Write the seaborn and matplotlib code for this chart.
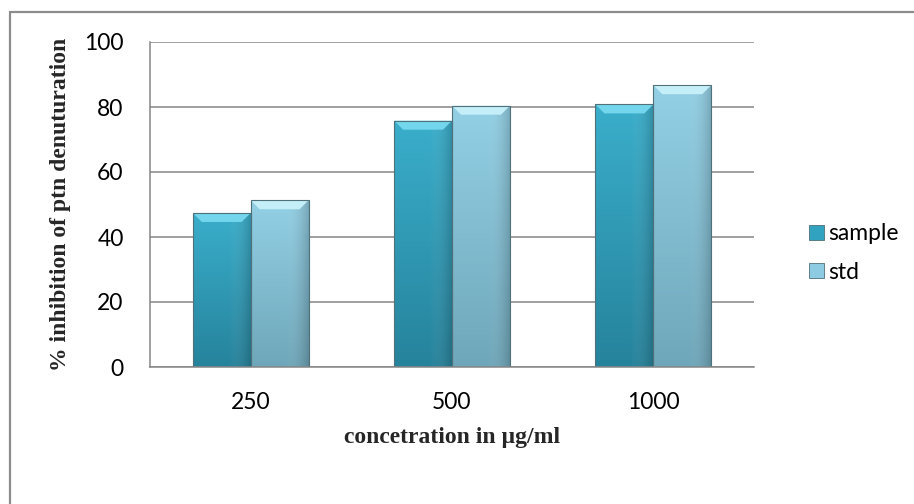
import numpy as np
import pandas as pd
import seaborn as sns
import matplotlib.pyplot as plt
from matplotlib.colors import LinearSegmentedColormap
from matplotlib.patches import Polygon, Patch
from matplotlib.lines import Line2D

# values
concentrations = ["250", "500", "1000"]
sample = [47.4, 75.8, 80.8]
std = [51.3, 80.4, 86.7]
series_names = ["sample", "std"]

df = pd.DataFrame({
    "conc": concentrations * 2,
    "value": sample + std,
    "series": ["sample"] * 3 + ["std"] * 3,
})

sns.set_style("white")
plt.rcParams['font.family'] = ['Lato', 'DejaVu Sans']
plt.rcParams['text.color'] = 'black'
plt.rcParams['xtick.labelcolor'] = 'black'
plt.rcParams['ytick.labelcolor'] = 'black'

colors = {"sample": "#31a2bf", "std": "#8ccbe1"}
shade = {"sample": ("#3aaecb", "#26839c"), "std": ("#93d0e5", "#6fa7ba")}
tops = {"sample": "#74d6ec", "std": "#c4eef8"}

fig = plt.figure(figsize=(9.14, 5.04), dpi=100)
ax = fig.add_axes([150 / 914, 1 - 367 / 504, 604 / 914, 325 / 504])

sns.barplot(data=df, x="conc", y="value", hue="series", order=concentrations,
            hue_order=series_names, palette=colors, width=0.575, ax=ax,
            legend=False, edgecolor="none", linewidth=0)

ax.set_ylim(0, 100)
ax.set_yticks(range(0, 101, 20))
ax.set_xlim(-0.5, 2.5)

# bevelled look for every bar
fig.canvas.draw()
to_data = ax.transData.inverted()
dx = abs(to_data.transform((9, 0))[0] - to_data.transform((0, 0))[0])
dy = abs(to_data.transform((0, 9))[1] - to_data.transform((0, 0))[1])
bars = [p for p in ax.patches]
for i, p in enumerate(bars):
    name = series_names[i // 3]
    x0, w, h = p.get_x(), p.get_width(), p.get_height()
    cmap = LinearSegmentedColormap.from_list("g", [shade[name][1], shade[name][0]])
    grad = np.linspace(0, 1, 100).reshape(-1, 1)
    im = ax.imshow(grad, cmap=cmap, origin="lower", aspect="auto",
                   extent=(x0, x0 + w, 0, h), zorder=2)
    im.set_clip_path(p)
    side = LinearSegmentedColormap.from_list("s", ["#ffffff00", "#00000030"])
    im2 = ax.imshow(np.linspace(0, 1, 50).reshape(1, -1), cmap=side, aspect="auto",
                    extent=(x0 + w * 0.6, x0 + w, 0, h), zorder=2.1)
    im2.set_clip_path(p)
    ax.add_patch(Polygon([(x0, h), (x0 + w, h), (x0 + w - dx, h - dy), (x0 + dx, h - dy)],
                         closed=True, facecolor=tops[name], edgecolor="none", zorder=2.2))
    ax.add_patch(Polygon([(x0, h), (x0 + w, h), (x0 + w, 0), (x0, 0)], closed=True,
                         facecolor="none", edgecolor="#50707a", linewidth=0.8, zorder=2.3))

ax.set_xlim(-0.5, 2.5)
ax.set_ylim(0, 100)

ax.yaxis.grid(True, color="#868686", linewidth=1.1)
ax.set_axisbelow(True)
for s in ["top", "right"]:
    ax.spines[s].set_visible(False)
for s in ["left", "bottom"]:
    ax.spines[s].set_color("#868686")
    ax.spines[s].set_linewidth(1.1)
ax.tick_params(axis="y", length=7, color="#868686", width=1.1, pad=12, labelsize=16.5)
ax.tick_params(axis="x", length=0, pad=18, labelsize=16.5)

ax.set_xlabel("concetration in µg/ml", family="Liberation Serif", fontweight="bold", fontsize=17)
ax.set_ylabel("% inhibition of ptn denuturation", family="Liberation Serif", fontweight="bold", fontsize=17)
ax.xaxis.set_label_coords(0.5, -0.218)
ax.yaxis.set_label_coords(-0.149, 0.5)
ax.xaxis.label.set_va("center")
ax.yaxis.label.set_va("center")

handles = [Patch(facecolor=colors[n], edgecolor="#50707a", linewidth=0.6) for n in series_names]
ax.legend(handles, series_names, loc="center left", bbox_to_anchor=(788 / 914, 1 - 253 / 504),
          bbox_transform=fig.transFigure, frameon=False, fontsize=16.5,
          handlelength=0.65, handleheight=0.65, handletextpad=0.2, labelspacing=0.75)

# chart frame (only the top and left edges are visible in the reference)
fig.add_artist(Line2D([10 / 914, 10 / 914], [0, 1 - 12 / 504], transform=fig.transFigure,
                      color="#8c8c8c", linewidth=1.6))
fig.add_artist(Line2D([10 / 914, 1], [1 - 12 / 504, 1 - 12 / 504], transform=fig.transFigure,
                      color="#8c8c8c", linewidth=1.6))

fig.savefig("out.png", dpi=100)
